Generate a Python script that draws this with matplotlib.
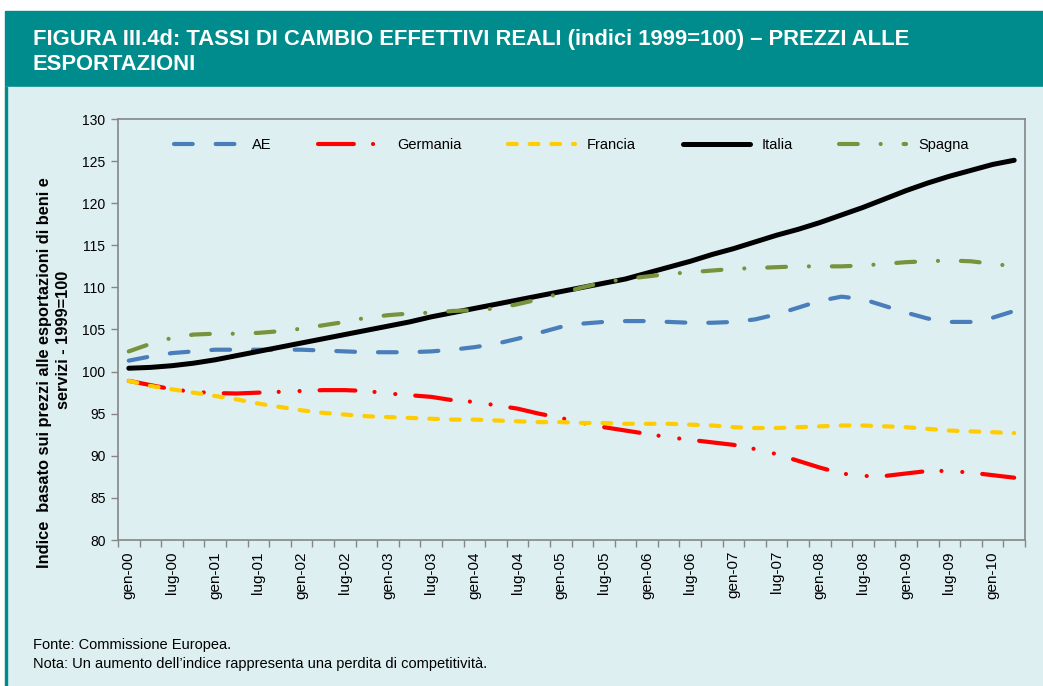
import numpy as np
import matplotlib
matplotlib.use('Agg')
import matplotlib.pyplot as plt
from matplotlib.patches import Rectangle

plt.rcParams['font.family'] = ['Liberation Sans', 'DejaVu Sans']

# quarterly index values, gen-00 .. apr-10
ae = [101.3, 101.8, 102.2, 102.4, 102.6, 102.6, 102.6, 102.6, 102.6, 102.5,
      102.4, 102.3, 102.3, 102.3, 102.4, 102.6, 102.9, 103.3, 103.9, 104.6,
      105.3, 105.7, 105.9, 106.0, 106.0, 105.9, 105.8, 105.8, 105.9, 106.2,
      106.8, 107.6, 108.4, 108.9, 108.6, 107.8, 107.0, 106.3, 105.9, 105.9,
      106.4, 107.2]
germania = [98.9, 98.4, 97.9, 97.6, 97.45, 97.4, 97.5, 97.6, 97.7, 97.8,
            97.8, 97.7, 97.4, 97.2, 97.0, 96.6, 96.4, 96.0, 95.6, 95.0,
            94.5, 93.9, 93.4, 93.0, 92.6, 92.2, 91.9, 91.6, 91.3, 90.8,
            90.2, 89.4, 88.6, 87.9, 87.6, 87.6, 87.9, 88.2, 88.2, 88.0,
            87.7, 87.4]
francia = [98.9, 98.3, 97.9, 97.5, 97.1, 96.7, 96.2, 95.8, 95.4, 95.1,
           94.9, 94.7, 94.6, 94.5, 94.4, 94.3, 94.3, 94.2, 94.1, 94.0,
           94.0, 93.9, 93.9, 93.8, 93.8, 93.8, 93.7, 93.6, 93.4, 93.3,
           93.3, 93.4, 93.5, 93.6, 93.6, 93.5, 93.4, 93.2, 93.0, 92.9,
           92.8, 92.7]
italia = [100.4, 100.5, 100.7, 101.0, 101.4, 101.9, 102.4, 102.9, 103.4, 103.9,
          104.4, 104.9, 105.4, 105.9, 106.5, 107.0, 107.5, 108.0, 108.5, 109.0,
          109.5, 110.0, 110.5, 111.0, 111.7, 112.4, 113.1, 113.9, 114.6, 115.4,
          116.2, 116.9, 117.7, 118.6, 119.5, 120.5, 121.5, 122.4, 123.2, 123.9,
          124.6, 125.1]
spagna = [102.4, 103.3, 104.0, 104.4, 104.5, 104.5, 104.6, 104.8, 105.1, 105.5,
          105.9, 106.4, 106.7, 106.9, 107.0, 107.2, 107.3, 107.5, 108.0, 108.6,
          109.3, 110.0, 110.6, 111.0, 111.3, 111.6, 111.8, 112.0, 112.2, 112.3,
          112.4, 112.5, 112.5, 112.5, 112.6, 112.8, 113.0, 113.1, 113.2, 113.1,
          112.8, 112.5]

tick_labels = ['gen-00', 'lug-00', 'gen-01', 'lug-01', 'gen-02', 'lug-02',
               'gen-03', 'lug-03', 'gen-04', 'lug-04', 'gen-05', 'lug-05',
               'gen-06', 'lug-06', 'gen-07', 'lug-07', 'gen-08', 'lug-08',
               'gen-09', 'lug-09', 'gen-10']

W, H = 1043, 686
teal = '#008C8C'
light = '#DEEFF1'

fig = plt.figure(figsize=(W / 100, H / 100), dpi=100)
fig.patch.set_facecolor('white')

def fx(px):
    return px / W

def fy(py):
    return 1 - py / H

# banner and panel, kept behind the axes
fig.patches.append(Rectangle((fx(5), fy(87)), 1 - fx(5), fy(11) - fy(87),
                             transform=fig.transFigure, color=teal, zorder=-3))
fig.patches.append(Rectangle((fx(5), 0), 1 - fx(5), fy(87),
                             transform=fig.transFigure, color=light, zorder=-3))
fig.patches.append(Rectangle((fx(5), 0), fx(2), fy(87),
                             transform=fig.transFigure, color=teal, zorder=-2))

fig.text(fx(33), fy(39), 'FIGURA III.4d: TASSI DI CAMBIO EFFETTIVI REALI (indici 1999=100) \u2013 PREZZI ALLE',
         color='white', fontsize=15.8, fontweight='bold', va='center')
fig.text(fx(33), fy(64), 'ESPORTAZIONI',
         color='white', fontsize=15.8, fontweight='bold', va='center')

ax = fig.add_axes([fx(118), fy(540), fx(1025) - fx(118), fy(119) - fy(540)])
ax.set_facecolor(light)

x = np.arange(len(italia))
lw = 3.0
ax.plot(x, ae, color='#4A7EBB', lw=lw, dashes=(4.5, 5.5),
        dash_capstyle='round', label='AE')
ax.plot(x, germania, color='#FF0000', lw=lw, dashes=(8.6, 4.6, 0.01, 5.0, 0.01, 4.8),
        dash_capstyle='round', label='Germania')
ax.plot(x, francia, color='#FFCC00', lw=lw, dashes=(2.1, 3.1),
        dash_capstyle='round', label='Francia')
ax.plot(x, italia, color='black', lw=3.6, solid_capstyle='round', label='Italia')
ax.plot(x, spagna, color='#77933C', lw=lw, dashes=(4.5, 5.5, 0.01, 5.5),
        dash_capstyle='round', label='Spagna')

ax.set_xlim(-0.5, len(italia) - 0.5)
ax.set_ylim(80, 130)
ax.set_yticks(np.arange(80, 131, 5))
ax.set_xticks(np.arange(0, len(italia), 2)[:len(tick_labels)])
ax.set_xticklabels(tick_labels, rotation=90)
ax.set_xticks(np.arange(-0.5, len(italia), 1), minor=True)
ax.tick_params(axis='x', which='major', length=0, pad=8, labelsize=11)
ax.tick_params(axis='x', which='minor', length=5, color='#868686', width=1)
ax.tick_params(axis='y', length=5, color='#868686', width=1, labelsize=10, pad=4)
for s in ax.spines.values():
    s.set_color('#868686')
    s.set_linewidth(1.2)

# y axis title, two lines as in the original
ax.text(-0.0805, 0.397, 'Indice  basato sui prezzi alle esportazioni di beni e',
        transform=ax.transAxes, rotation=90, ha='center', va='center',
        fontsize=11.8, fontweight='bold')
ax.text(-0.0606, 0.475, 'servizi - 1999=100',
        transform=ax.transAxes, rotation=90, ha='center', va='center',
        fontsize=11.8, fontweight='bold')

ax.legend(loc='center', bbox_to_anchor=(0.4995, 0.938), ncol=5, frameon=False,
          fontsize=10.5, handlelength=4.6, handletextpad=0.8, columnspacing=3.2)

fig.text(fx(33), fy(645), 'Fonte: Commissione Europea.', fontsize=10.5, va='center')
fig.text(fx(33), fy(664), "Nota: Un aumento dell\u2019indice rappresenta una perdita di competitivit\u00e0.",
         fontsize=10.5, va='center')

fig.savefig('out.png', dpi=100, facecolor=fig.get_facecolor())
